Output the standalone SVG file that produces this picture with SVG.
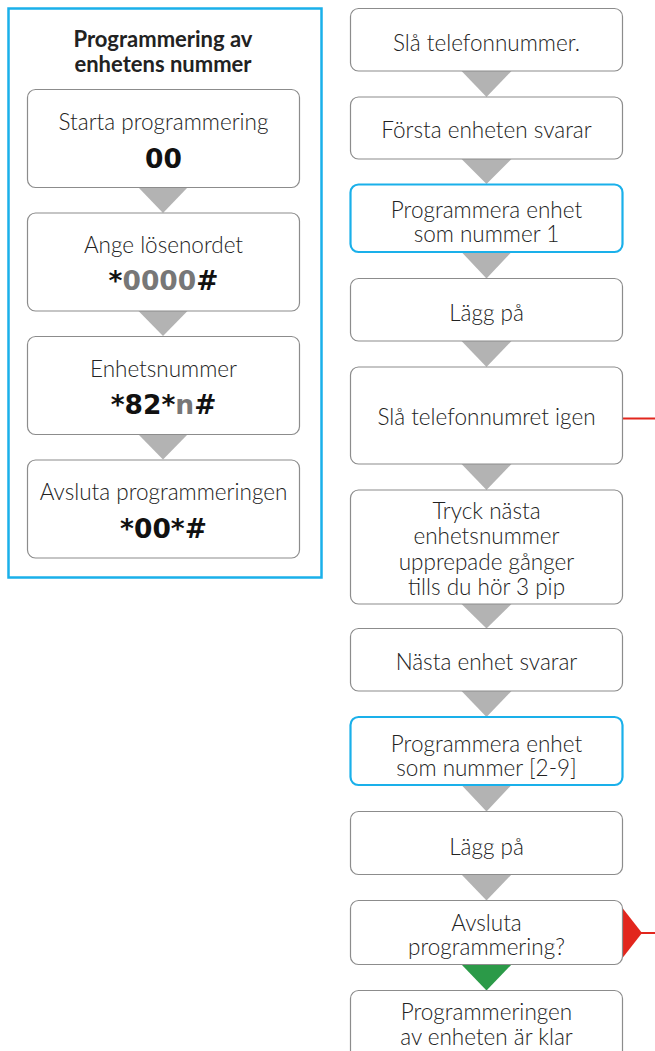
<svg xmlns="http://www.w3.org/2000/svg" width="655" height="1051" viewBox="0 0 655 1051">
<style>
.box{fill:#fff;stroke:#8c8c8c;stroke-width:1.2}
.hl{fill:#fff;stroke:#1ab0ea;stroke-width:2.2}
.t{font-family:Lato,"Noto Sans",sans-serif;font-size:22.5px;font-weight:300;fill:#222;text-anchor:middle}
.code{font-family:"DejaVu Sans",sans-serif;font-size:26.5px;font-weight:bold;fill:#111;text-anchor:middle}
.g{fill:#777}
.title{font-family:Lato,"Noto Sans",sans-serif;font-size:22px;font-weight:bold;fill:#222;text-anchor:middle}
.tri{fill:#b3b3b3}
</style>
<rect width="655" height="1051" fill="#fff"/>
<g id="panel">
<rect x="8.5" y="8.5" width="313" height="569" fill="#fff" stroke="#1ab0ea" stroke-width="2.5"/>
<text class="title" x="163" y="47">Programmering av</text>
<text class="title" x="163" y="72">enhetens nummer</text>
</g>
<g id="connectors">
<polygon class="tri" points="138,187 188,187 163,213"/>
<polygon class="tri" points="138,310.5 188,310.5 163,336"/>
<polygon class="tri" points="138,434 188,434 163,459.5"/>
<polygon class="tri" points="461.5,71 511.5,71 486.5,97"/>
<polygon class="tri" points="461.5,159 511.5,159 486.5,184"/>
<polygon class="tri" points="461.5,252 511.5,252 486.5,278.5"/>
<polygon class="tri" points="461.5,341 511.5,341 486.5,367"/>
<polygon class="tri" points="461.5,464 511.5,464 486.5,490"/>
<polygon class="tri" points="461.5,604 511.5,604 486.5,628.5"/>
<polygon class="tri" points="461.5,691 511.5,691 486.5,717"/>
<polygon class="tri" points="461.5,785 511.5,785 486.5,811.5"/>
<polygon class="tri" points="461.5,874.5 511.5,874.5 486.5,900.5"/>
<polygon points="461.5,964.5 511.5,964.5 486.5,990.5" fill="#2b9a48"/>
<line x1="622.5" y1="418.5" x2="655" y2="418.5" stroke="#e2261d" stroke-width="2"/>
<polygon points="622.5,908 642,933 622.5,958" fill="#e2261d"/>
<line x1="640" y1="933" x2="655" y2="933" stroke="#e2261d" stroke-width="2"/>
</g>
<g id="l1"><rect class="box" x="27.5" y="89.5" width="272" height="98" rx="8"/>
<text class="t" x="163.5" y="130">Starta programmering</text>
<text class="code" x="163.5" y="168">00</text></g>
<g id="l2"><rect class="box" x="27.5" y="213" width="272" height="98" rx="8"/>
<text class="t" x="163.5" y="253">Ange lösenordet</text>
<text class="code" x="163.5" y="290">*<tspan class="g">0000</tspan>#</text></g>
<g id="l3"><rect class="box" x="27.5" y="336.5" width="272" height="98" rx="8"/>
<text class="t" x="163.5" y="377">Enhetsnummer</text>
<text class="code" x="163.5" y="414">*82*<tspan class="g">n</tspan>#</text></g>
<g id="l4"><rect class="box" x="27.5" y="460" width="272" height="98" rx="8"/>
<text class="t" x="163.5" y="500">Avsluta programmeringen</text>
<text class="code" x="163.5" y="538">*00*#</text></g>
<g id="r1"><rect class="box" x="350.5" y="8.5" width="272" height="62.5" rx="8"/>
<text class="t" x="486.5" y="51">Slå telefonnummer.</text></g>
<g id="r2"><rect class="box" x="350.5" y="97" width="272" height="62" rx="8"/>
<text class="t" x="486.5" y="138">Första enheten svarar</text></g>
<g id="r3"><rect class="hl" x="350.5" y="184.5" width="272" height="67.5" rx="8"/>
<text class="t" x="486.5" y="218">Programmera enhet</text>
<text class="t" x="486.5" y="242">som nummer 1</text></g>
<g id="r4"><rect class="box" x="350.5" y="278.5" width="272" height="62.5" rx="8"/>
<text class="t" x="486.5" y="321">Lägg på</text></g>
<g id="r5"><rect class="box" x="350.5" y="367" width="272" height="97" rx="8"/>
<text class="t" x="486.5" y="425">Slå telefonnumret igen</text></g>
<g id="r6"><rect class="box" x="350.5" y="490" width="272" height="114" rx="8"/>
<text class="t" x="486.5" y="518.5">Tryck nästa</text>
<text class="t" x="486.5" y="544">enhetsnummer</text>
<text class="t" x="486.5" y="569.5">upprepade gånger</text>
<text class="t" x="486.5" y="595">tills du hör 3 pip</text></g>
<g id="r7"><rect class="box" x="350.5" y="628.5" width="272" height="62.5" rx="8"/>
<text class="t" x="486.5" y="670">Nästa enhet svarar</text></g>
<g id="r8"><rect class="hl" x="350.5" y="717" width="272" height="68" rx="8"/>
<text class="t" x="486.5" y="752">Programmera enhet</text>
<text class="t" x="486.5" y="776">som nummer [2-9]</text></g>
<g id="r9"><rect class="box" x="350.5" y="811.5" width="272" height="63" rx="8"/>
<text class="t" x="486.5" y="855">Lägg på</text></g>
<g id="r10"><rect class="box" x="350.5" y="900.5" width="272" height="64" rx="8"/>
<text class="t" x="486.5" y="931">Avsluta</text>
<text class="t" x="486.5" y="955">programmering?</text></g>
<g id="r11"><rect class="box" x="350.5" y="990.5" width="272" height="80" rx="8"/>
<text class="t" x="486.5" y="1020">Programmeringen</text>
<text class="t" x="486.5" y="1045">av enheten är klar</text></g>
</svg>
